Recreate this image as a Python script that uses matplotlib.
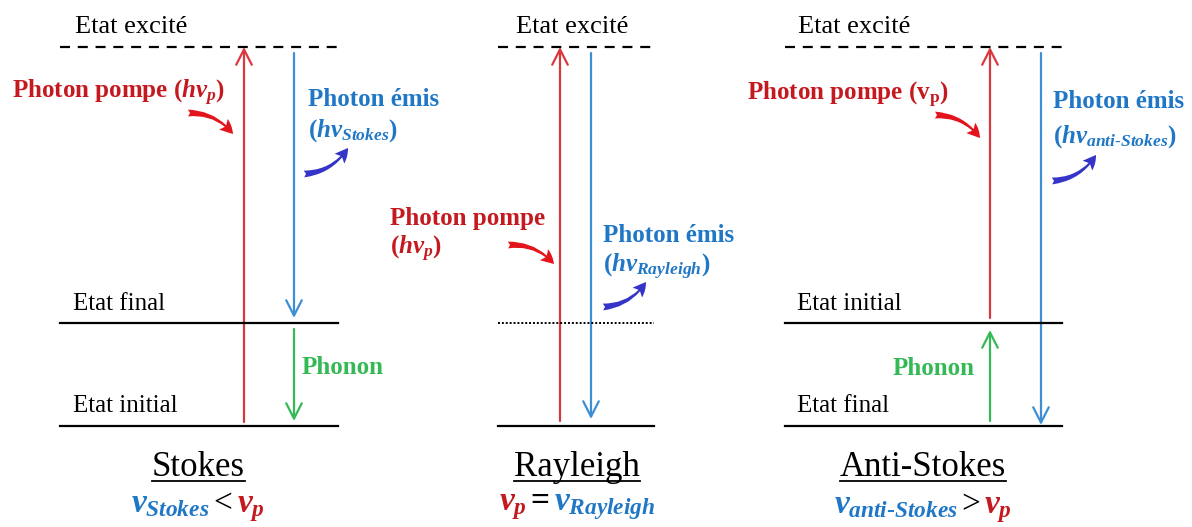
import matplotlib.pyplot as plt
from matplotlib.patches import FancyArrowPatch

plt.rcParams['mathtext.fontset'] = 'custom'
plt.rcParams['mathtext.rm'] = 'Liberation Serif:bold'
plt.rcParams['mathtext.it'] = 'Liberation Serif:italic:bold'
plt.rcParams['mathtext.bf'] = 'Liberation Serif:bold'

SERIF = 'Liberation Serif'
RED_LINE = '#d9383e'
RED_TEXT = '#c41a1f'
RED_CURVE = '#e3141b'
BLUE_LINE = '#3c8fd6'
BLUE_TEXT = '#1f77c6'
BLUE_CURVE = '#3434c8'
GREEN = '#35b956'

# diagram content
titles = ['Stokes', 'Rayleigh', 'Anti-Stokes']
centers = [198, 577, 923]
level_x0 = [60, 498, 785]
level_x1 = [338, 654, 1062]
excited_x = [75, 516, 798]
excited_y = 47
mid_y = 323
low_y = 426
mid_style = ['-', ':', '-']
labels_mid = ['Etat final', None, 'Etat initial']
labels_low = ['Etat initial', None, 'Etat final']
label_x = [73, None, 797]

fig = plt.figure(figsize=(11.92, 5.27), dpi=100)
ax = fig.add_axes([0, 0, 1, 1])
ax.set_xlim(0, 1192)
ax.set_ylim(527, 0)
ax.axis('off')
renderer = fig.canvas.get_renderer()


def arrow(x, y0, y1, color):
    ax.add_patch(FancyArrowPatch((x, y0), (x, y1), arrowstyle='->,head_length=0.55,head_width=0.28',
                                 mutation_scale=20, lw=1.6, color=color, shrinkA=0, shrinkB=0))


def curve(p0, p1, color, rad):
    ax.add_patch(FancyArrowPatch(p0, p1, connectionstyle='arc3,rad=%s' % rad,
                                 arrowstyle='fancy,head_length=0.7,head_width=0.7,tail_width=0.35',
                                 mutation_scale=14, color=color, lw=0, shrinkA=0, shrinkB=0))


def chain(x, y, pieces, gap=4):
    arts = []
    for txt, color, size, kw in pieces:
        arts.append(ax.text(0, y, txt, color=color, fontsize=size, family=SERIF,
                            ha='left', va='baseline', **kw))
    widths = [a.get_window_extent(renderer).width for a in arts]
    total = sum(widths) + gap * (len(arts) - 1)
    cx = x - total / 2
    for a, w in zip(arts, widths):
        a.set_x(cx)
        cx += w + gap


def title(x, y, txt):
    t = ax.text(x, y, txt, fontsize=25, family=SERIF, ha='center', va='baseline')
    bb = t.get_window_extent(renderer)
    ax.plot([x - bb.width / 2, x + bb.width / 2], [y + 5, y + 5], color='black', lw=1.3)


# levels
for i in range(3):
    ax.plot([level_x0[i], level_x1[i]], [excited_y, excited_y], color='black', lw=1.6,
            linestyle=(0, (4.5, 3.5)))
    if mid_style[i] == '-':
        ax.plot([level_x0[i], level_x1[i]], [mid_y, mid_y], color='black', lw=1.6)
    else:
        ax.plot([level_x0[i], level_x1[i]], [mid_y, mid_y], color='black', lw=1.4,
                linestyle=(0, (1, 1)))
    ax.plot([level_x0[i], level_x1[i]], [low_y, low_y], color='black', lw=1.6)
    ax.text(excited_x[i], 33, 'Etat excité', fontsize=19, family=SERIF, va='baseline')
    if labels_mid[i]:
        ax.text(label_x[i], 310, labels_mid[i], fontsize=18, family=SERIF, va='baseline')
        ax.text(label_x[i], 412, labels_low[i], fontsize=18, family=SERIF, va='baseline')
    title(centers[i], 476, titles[i])

# Stokes
arrow(244, 422, excited_y, RED_LINE)
arrow(294, 53, 318, BLUE_LINE)
arrow(294, 329, 421, GREEN)
ax.text(302, 374, 'Phonon', color=GREEN, fontsize=18, family=SERIF, weight='bold', va='baseline')
ax.text(12, 98, r'Photon pompe $(h\nu_p)$', color=RED_TEXT, fontsize=18, family=SERIF,
        weight='bold', va='baseline')
ax.text(308, 106, 'Photon émis', color=BLUE_TEXT, fontsize=18, family=SERIF, weight='bold', va='baseline')
ax.text(308, 137, r'$(h\nu_{Stokes})$', color=BLUE_TEXT, fontsize=18, va='baseline')
curve((188, 113), (233, 134), RED_CURVE, -0.25)
curve((304, 174), (348, 148), BLUE_CURVE, 0.25)

# Rayleigh
arrow(560, 421, excited_y, RED_LINE)
arrow(591, 53, 419, BLUE_LINE)
ax.text(390, 225, 'Photon pompe', color=RED_TEXT, fontsize=18, family=SERIF, weight='bold', va='baseline')
ax.text(390, 254, r'$(h\nu_p)$', color=RED_TEXT, fontsize=18, va='baseline')
ax.text(603, 242, 'Photon émis', color=BLUE_TEXT, fontsize=18, family=SERIF, weight='bold', va='baseline')
ax.text(603, 272, r'$(h\nu_{Rayleigh})$', color=BLUE_TEXT, fontsize=18, va='baseline')
curve((508, 245), (554, 264), RED_CURVE, -0.25)
curve((603, 307), (646, 282), BLUE_CURVE, 0.25)

# Anti-Stokes
arrow(990, 318, excited_y, RED_LINE)
arrow(1041, 53, 425, BLUE_LINE)
arrow(990, 421, 330, GREEN)
ax.text(893, 375, 'Phonon', color=GREEN, fontsize=18, family=SERIF, weight='bold', va='baseline')
ax.text(747, 100, r'Photon pompe $(\mathrm{v_p})$', color=RED_TEXT, fontsize=18, family=SERIF,
        weight='bold', va='baseline')
ax.text(1053, 108, 'Photon émis', color=BLUE_TEXT, fontsize=18, family=SERIF, weight='bold', va='baseline')
ax.text(1053, 143, r'$(h\nu_{anti\text{-}Stokes})$', color=BLUE_TEXT, fontsize=18, va='baseline')
curve((935, 115), (980, 138), RED_CURVE, -0.25)
curve((1052, 181), (1096, 155), BLUE_CURVE, 0.25)

# relations
chain(centers[0], 512, [(r'$\nu_{Stokes}$', BLUE_TEXT, 24, {}), ('<', 'black', 24, {}),
                        (r'$\nu_p$', RED_TEXT, 24, {})])
chain(centers[1], 510, [(r'$\nu_p$', RED_TEXT, 24, {}), ('=', 'black', 24, {'weight': 'bold'}),
                        (r'$\nu_{Rayleigh}$', BLUE_TEXT, 24, {})])
chain(centers[2], 513, [(r'$\nu_{anti\text{-}Stokes}$', BLUE_TEXT, 24, {}), ('>', 'black', 24, {}),
                        (r'$\nu_p$', RED_TEXT, 24, {})])

fig.savefig('out.png', dpi=100)
